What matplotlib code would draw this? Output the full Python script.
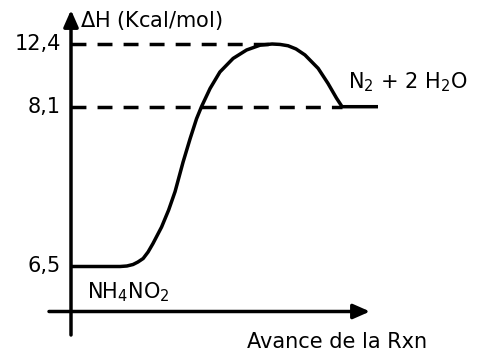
import numpy as np
import matplotlib
matplotlib.use('Agg')
import matplotlib.pyplot as plt
from matplotlib.patches import FancyArrowPatch

plt.rcParams['font.family'] = ['DejaVu Sans']
plt.rcParams['mathtext.fontset'] = 'dejavusans'

progress = [0, 1.60, 1.82, 2.02, 2.18, 2.35, 2.51, 2.67, 2.95, 3.18, 3.39, 3.65, 3.88,
            4.09, 4.25, 4.53, 4.85, 5.28, 5.72, 6.16, 6.55, 6.81, 7.07, 7.33, 7.62,
            8.05, 8.37, 8.65, 8.83, 10.0]
enthalpy = [6.5, 6.5, 6.505, 6.52, 6.545, 6.58, 6.645, 6.73, 6.895, 7.065, 7.25, 7.545,
            7.78, 7.98, 8.1, 9.35, 10.48, 11.41, 11.99, 12.32, 12.4, 12.37, 12.28, 12.06,
            11.65, 10.73, 9.70, 8.68, 8.1, 8.1]
levels = [6.5, 8.1, 12.4]
level_labels = ['6,5', '8,1', '12,4']
reactant = 'NH$_4$NO$_2$'
products = 'N$_2$ + 2 H$_2$O'
ylabel = '$\\Delta$H (Kcal/mol)'
xlabel = 'Avance de la Rxn'

# eje y no lineal (el dibujo no esta a escala)
E_pts = [3.0, 6.5, 8.1, 12.4, 16.0]
H_pts = [-262.1, 87.5, 247.3, 310.0, 362.5]


def forward(e):
    return np.interp(e, E_pts, H_pts)


def inverse(h):
    return np.interp(h, H_pts, E_pts)


W, H = 480, 354
fig = plt.figure(figsize=(W / 100, H / 100), dpi=100)
ax = fig.add_axes([0, 0, 1, 1])
ax.set_yscale('function', functions=(forward, inverse))
ax.set_xlim(-71 / 30.7, (W - 71) / 30.7)
ax.set_ylim(inverse(0), inverse(H))
ax.axis('off')

lw = 2.5
fs = 15

# curva
ax.plot(progress, enthalpy, color='black', lw=lw, solid_capstyle='butt',
        solid_joinstyle='round', zorder=3)

# lineas punteadas de referencia
peak = int(np.argmax(enthalpy))
end_x = progress[-2]
dash = (0, (4.3, 3.2))
ax.plot([0, progress[peak]], [levels[2], levels[2]], color='black', lw=lw,
        linestyle=dash, zorder=2)
ax.plot([0, end_x], [levels[1], levels[1]], color='black', lw=lw,
        linestyle=dash, zorder=2)

# etiquetas de nivel
for lv, lab in zip(levels, level_labels):
    ax.text(-0.33, lv, lab, ha='right', va='center', fontsize=fs)

# ejes con flecha
def arrow(p0, p1):
    a = FancyArrowPatch(p0, p1, transform=None,
                        arrowstyle='-|>,head_length=0.5,head_width=0.22',
                        mutation_scale=20, lw=lw, color='black',
                        shrinkA=0, shrinkB=0)
    fig.patches.append(a)

arrow((71, H - 335), (71, H - 10))
arrow((49, H - 311.5), (370, H - 311.5))

# textos
fig.text(80 / W, 1 - 20 / H, ylabel, ha='left', va='center', fontsize=fs)
fig.text(87 / W, 1 - 292 / H, reactant, ha='left', va='center', fontsize=fs)
fig.text(348 / W, 1 - 82 / H, products, ha='left', va='center', fontsize=fs)
fig.text(247 / W, 1 - 342 / H, xlabel, ha='left', va='center', fontsize=fs)

fig.savefig('out.png', dpi=100)
